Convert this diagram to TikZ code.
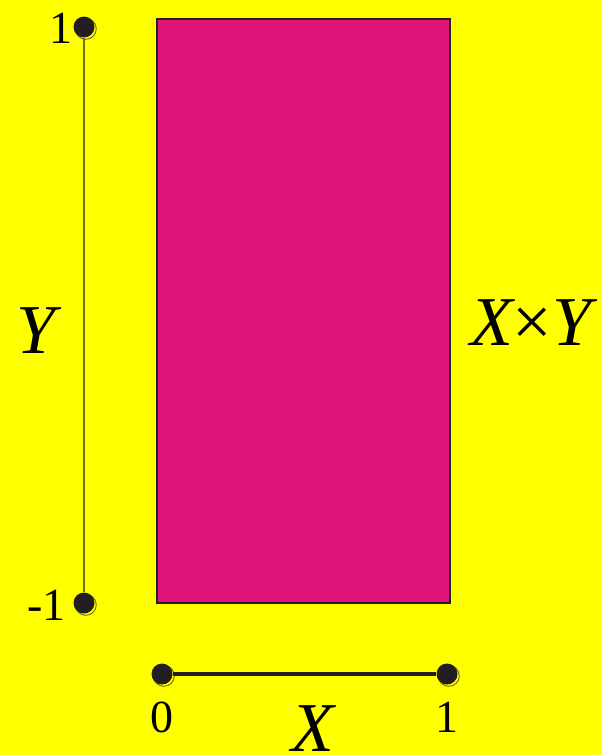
\documentclass[tikz,border=0pt]{standalone}
\usepackage{fontspec}
\setmainfont{Liberation Serif}
\definecolor{bgyellow}{HTML}{FFFF00}
\definecolor{rectmag}{HTML}{E0157A}
\definecolor{ink}{HTML}{231F20}
\definecolor{shadowc}{HTML}{6E6E10}
\begin{document}
\begin{tikzpicture}[x=1pt,y=-1pt,
  dot/.style={circle,fill=ink,minimum size=21pt,inner sep=0pt},
  big/.style={inner sep=0pt,font=\fontsize{70}{70}\selectfont\itshape},
  num/.style={inner sep=0pt,font=\fontsize{46}{46}\selectfont}]
\fill[bgyellow] (0,0) rectangle (602,755);
\useasboundingbox (0,0) rectangle (602,755);
% product rectangle
\node[draw=ink,line width=2.2pt,fill=rectmag,minimum width=293pt,minimum height=584pt,inner sep=0pt,anchor=north west] (rect) at (156,18) {};
% shadows of dots
\foreach \p in {(84,27),(84,603),(162,674),(447,674)}
  \draw[shadowc,line width=0.9pt] \p ++(1.8,1.8) circle (10.5);
% dots
\node[dot] (ytop) at (84,27) {};
\node[dot] (ybot) at (84,603) {};
\node[dot] (x0) at (162,674) {};
\node[dot] (x1) at (447,674) {};
% axes
\draw[shadowc,line width=1.1pt] (ytop) -- (ybot);
\draw[ink,line width=3.5pt] (x0) -- (x1);
% labels
\node[num,anchor=base] (l1) at (61,43) {1};
\node[num,anchor=base east] (lm1) at (66,620) {-1};
\node[num,anchor=base] (l0) at (162,732) {0};
\node[num,anchor=base] (lx1) at (447,732) {1};
\node[big,anchor=base] (ly) at (36,353) {Y};
\node[big,anchor=base] (lx) at (313,751) {X};
\node[inner sep=0pt,anchor=base west,font=\fontsize{70}{70}\selectfont] (lxy) at (470,345) {{\itshape X}×{\itshape Y}};
\end{tikzpicture}
\end{document}
